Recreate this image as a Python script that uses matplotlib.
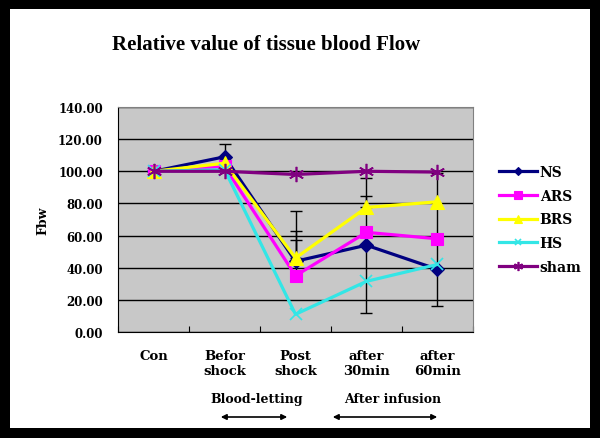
import matplotlib.pyplot as plt
import numpy as np
from matplotlib.patches import FancyArrowPatch

# Dati
categorie = ["Con", "Befor\nshock", "Post\nshock", "after\n30min", "after\n60min"]
serie = ["NS", "ARS", "BRS", "HS", "sham"]
ns = [100, 109, 44, 54, 39]
ars = [100, 103, 35, 62, 58]
brs = [100, 105, 46, 77.5, 81]
hs = [100, 101, 11, 31.5, 42]
sham = [100, 100, 98, 100, 99.5]

# barre d'errore (inferiore, superiore)
ns_err = ([0, 0, 0, 42, 0], [0, 8, 19, 42, 0])
ars_err = ([0, 0, 0, 0, 42], [0, 0, 22, 0, 41])
brs_err = ([0, 0, 0, 0, 0], [0, 0, 29, 7, 0])

valori = [ns, ars, brs, hs, sham]
errori = [ns_err, ars_err, brs_err, None, None]
colori = ["#000080", "#FF00FF", "#FFFF00", "#33E6E6", "#800080"]
marker = ["D", "s", "^", "x", (6, 2, 0)]
dim_marker = [7, 9, 10, 8, 11]

font = "DejaVu Serif"
font_titolo = "Liberation Serif"

fig = plt.figure(figsize=(6, 4.39), dpi=100, edgecolor="black", linewidth=13)
ax = fig.add_axes([0.197, 0.2415, 0.591, 0.5125])
ax.set_facecolor("#C8C8C8")

x = np.arange(len(categorie))
for i, nome in enumerate(serie):
    if errori[i] is not None:
        lo, up = np.array(errori[i][0]), np.array(errori[i][1])
        idx = (lo + up) > 0
        ax.errorbar(x[idx], np.array(valori[i])[idx], yerr=[lo[idx], up[idx]],
                    fmt="none", ecolor="black", elinewidth=1, capsize=4, zorder=2)
    ax.plot(x, valori[i], color=colori[i], lw=2.3, marker=marker[i],
            markersize=dim_marker[i], markeredgewidth=1.2 if i >= 3 else 0.8,
            markeredgecolor=colori[i], label=nome, zorder=3 + i)

ax.set_xlim(-0.5, len(categorie) - 0.5)
ax.set_ylim(0, 140)
ax.set_yticks(np.arange(0, 141, 20))
ax.set_yticklabels([f"{v:.2f}" for v in np.arange(0, 141, 20)],
                   fontfamily=font, fontweight="bold", fontsize=8.5)
ax.yaxis.grid(True, color="black", lw=1)
ax.set_axisbelow(True)
ax.tick_params(axis="y", length=0, pad=11)

# tacche tra le categorie
ax.set_xticks(np.arange(-0.5, len(categorie), 1))
ax.set_xticklabels([])
ax.tick_params(axis="x", direction="in", length=4, color="black")
for xi, testo in zip(x, categorie):
    ax.text(xi, -0.075, testo, transform=ax.get_xaxis_transform(), ha="center", va="top",
            fontfamily=font, fontweight="bold", fontsize=9.5, linespacing=1.2)

for s in ["top", "right"]:
    ax.spines[s].set_color("#808080")
for s in ["left", "bottom"]:
    ax.spines[s].set_color("black")

ax.set_ylabel("Fbw", fontfamily=font, fontweight="bold", fontsize=9, labelpad=6)

fig.text(0.443, 0.897, "Relative value of tissue blood Flow", ha="center", va="center",
         fontfamily=font_titolo, fontweight="bold", fontsize=15)

# legenda a destra
ax.legend(loc="center left", bbox_to_anchor=(1.04, 0.5), frameon=False,
          prop={"family": font, "weight": "bold", "size": 10},
          handlelength=2.7, handletextpad=0.2, labelspacing=0.7, markerscale=0.6)

# fasi sotto l'asse x
fig.text(257 / 600, 1 - 400 / 439, "Blood-letting", ha="center", va="center",
         fontfamily=font, fontweight="bold", fontsize=9)
fig.text(393 / 600, 1 - 400 / 439, "After infusion", ha="center", va="center",
         fontfamily=font, fontweight="bold", fontsize=9)
for x0, x1 in [(218, 290), (330, 440)]:
    freccia = FancyArrowPatch((x0 / 600, 1 - 418 / 439), (x1 / 600, 1 - 418 / 439),
                              transform=fig.transFigure, arrowstyle="<|-|>",
                              mutation_scale=8, color="black", lw=1.2)
    fig.add_artist(freccia)

fig.savefig("out.png", dpi=100, edgecolor=fig.get_edgecolor())
